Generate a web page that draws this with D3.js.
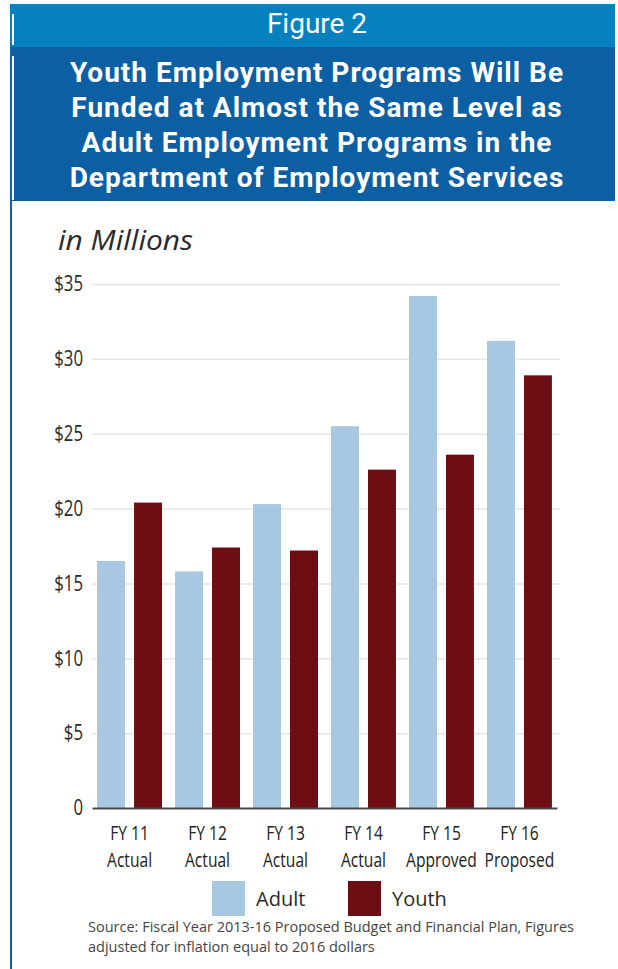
<!DOCTYPE html>
<html>
<head>
<meta charset="utf-8">
<script src="https://cdn.jsdelivr.net/npm/d3@7"></script>
<style>
  body { margin: 0; background: #fff; }
</style>
</head>
<body>
<div id="chart"></div>
<script>
// fiscal years, two label lines each
var years = ["FY 11", "FY 12", "FY 13", "FY 14", "FY 15", "FY 16"];
var stages = ["Actual", "Actual", "Actual", "Actual", "Approved", "Proposed"];

// funding in millions of dollars
var adult = [16.5, 15.8, 20.3, 25.5, 34.2, 31.2];
var youth = [20.4, 17.4, 17.2, 22.6, 23.6, 28.9];

var series = ["Adult", "Youth"];
var colors = ["#a8c7e0", "#6d0f12"];
var yTicks = [0, 5, 10, 15, 20, 25, 30, 35];

var titleLines = [
  "Youth Employment Programs Will Be",
  "Funded at Almost the Same Level as",
  "Adult Employment Programs in the",
  "Department of Employment Services"
];
var sourceLines = [
  "Source: Fiscal Year 2013-16 Proposed Budget and Financial Plan, Figures",
  "adjusted for inflation equal to 2016 dollars"
];

var W = 618, H = 969;

var svg = d3.select("#chart")
  .append("svg")
    .attr("width", W)
    .attr("height", H);

// header bands
svg.append("rect")
  .attr("x", 10).attr("y", 4)
  .attr("width", 605).attr("height", 44)
  .attr("fill", "#0681c0");
svg.append("rect")
  .attr("x", 10).attr("y", 47)
  .attr("width", 605).attr("height", 154)
  .attr("fill", "#0c5fa3");

// left rule running down the page
svg.append("rect")
  .attr("x", 10).attr("y", 47)
  .attr("width", 2).attr("height", H - 47)
  .attr("fill", "#1062ad");

// thin white inner lines in the header
svg.append("rect")
  .attr("x", 12).attr("y", 14)
  .attr("width", 2).attr("height", 31)
  .attr("fill", "#ffffff");
svg.append("rect")
  .attr("x", 12).attr("y", 56)
  .attr("width", 2).attr("height", 144)
  .attr("fill", "#ffffff");

svg.append("text")
  .attr("x", 317).attr("y", 33)
  .attr("text-anchor", "middle")
  .attr("fill", "#fff")
  .style("font-family", "Roboto, sans-serif")
  .style("font-size", "28px")
  .text("Figure 2");

svg.selectAll(".title")
  .data(titleLines)
  .enter().append("text")
    .attr("class", "title")
    .attr("x", 317)
    .attr("y", function(d, i) { return 82 + i * 35; })
    .attr("text-anchor", "middle")
    .attr("fill", "#fff")
    .style("font-family", "Roboto, sans-serif")
    .style("font-weight", "700")
    .style("font-size", "28px")
    .style("letter-spacing", "1px")
    .text(function(d) { return d; });

// scales
var x0 = d3.scaleBand()
  .domain(years)
  .range([92, 557])
  .paddingInner(0.167)
  .paddingOuter(0.065);

var x1 = d3.scaleBand()
  .domain(series)
  .range([0, x0.bandwidth()])
  .paddingInner(0.243);

var y = d3.scaleLinear()
  .domain([0, 35])
  .range([808, 284]);

var color = d3.scaleOrdinal().domain(series).range(colors);

// unit label
svg.append("text")
  .attr("x", 58).attr("y", 250)
  .attr("fill", "#2a2a2a")
  .attr("textLength", 135)
  .attr("lengthAdjust", "spacingAndGlyphs")
  .style("font-family", "'Open Sans', sans-serif")
  .style("font-style", "italic")
  .style("font-size", "28px")
  .text("in Millions");

// gridlines
svg.append("g")
  .attr("transform", "translate(92,0)")
  .call(d3.axisLeft(y).tickValues(yTicks.slice(1)).tickSize(-468).tickFormat(""))
  .call(function(g) { g.select(".domain").remove(); })
  .call(function(g) {
    g.selectAll(".tick line").attr("stroke", "#e6e6e6").attr("stroke-width", 1.5);
  });

// y labels (narrowed to mimic a condensed face)
svg.append("g")
  .attr("transform", "translate(83,0)")
  .call(d3.axisLeft(y).tickValues(yTicks).tickSize(0).tickPadding(0)
    .tickFormat(function(d) { return d === 0 ? "0" : "$" + d; }))
  .call(function(g) { g.select(".domain").remove(); })
  .call(function(g) {
    g.selectAll("text")
      .attr("fill", "#2a2a2a")
      .attr("transform", "scale(0.8,1)")
      .style("font-family", "'Open Sans', sans-serif")
      .style("font-size", "21px");
  });

// bars
var rows = years.map(function(yr, i) {
  return { year: yr, values: [ { key: "Adult", value: adult[i] }, { key: "Youth", value: youth[i] } ] };
});

svg.append("g")
  .selectAll("g")
  .data(rows)
  .enter().append("g")
    .attr("transform", function(d) { return "translate(" + x0(d.year) + ",0)"; })
  .selectAll("rect")
  .data(function(d) { return d.values; })
  .enter().append("rect")
    .attr("x", function(d) { return x1(d.key); })
    .attr("y", function(d) { return y(d.value); })
    .attr("width", x1.bandwidth())
    .attr("height", function(d) { return y(0) - y(d.value); })
    .attr("fill", function(d) { return color(d.key); });

// baseline + category labels
var xAxis = svg.append("g")
  .attr("transform", "translate(0," + y(0) + ")")
  .call(d3.axisBottom(x0).tickSize(0).tickPadding(0).tickFormat(""));

xAxis.select(".domain")
  .attr("stroke", "#4b4b4b")
  .attr("stroke-width", 2);

xAxis.selectAll(".tick").each(function(d, i) {
  var tick = d3.select(this);
  [years[i], stages[i]].forEach(function(s, j) {
    tick.append("text")
      .attr("x", 0)
      .attr("y", 32 + j * 27.5)
      .attr("fill", "#222")
      .attr("text-anchor", "middle")
      .attr("transform", "scale(0.78,1)")
      .style("font-family", "'Open Sans', sans-serif")
      .style("font-size", "20px")
      .text(s);
  });
});

// legend
var legendX = [212, 348];
var legend = svg.selectAll(".legend")
  .data(series)
  .enter().append("g")
    .attr("class", "legend")
    .attr("transform", function(d, i) { return "translate(" + legendX[i] + ",881)"; });

legend.append("rect")
  .attr("width", 33).attr("height", 35)
  .attr("fill", function(d) { return color(d); });

legend.append("text")
  .attr("x", 44).attr("y", 25)
  .attr("fill", "#2a2a2a")
  .style("font-family", "'Open Sans', sans-serif")
  .style("font-size", "20px")
  .text(function(d) { return d; });

// source note
svg.selectAll(".source")
  .data(sourceLines)
  .enter().append("text")
    .attr("class", "source")
    .attr("x", 88)
    .attr("y", function(d, i) { return 932 + i * 20; })
    .attr("fill", "#444")
    .style("font-family", "'Open Sans', sans-serif")
    .style("font-size", "14.5px")
    .text(function(d) { return d; });
</script>
</body>
</html>
